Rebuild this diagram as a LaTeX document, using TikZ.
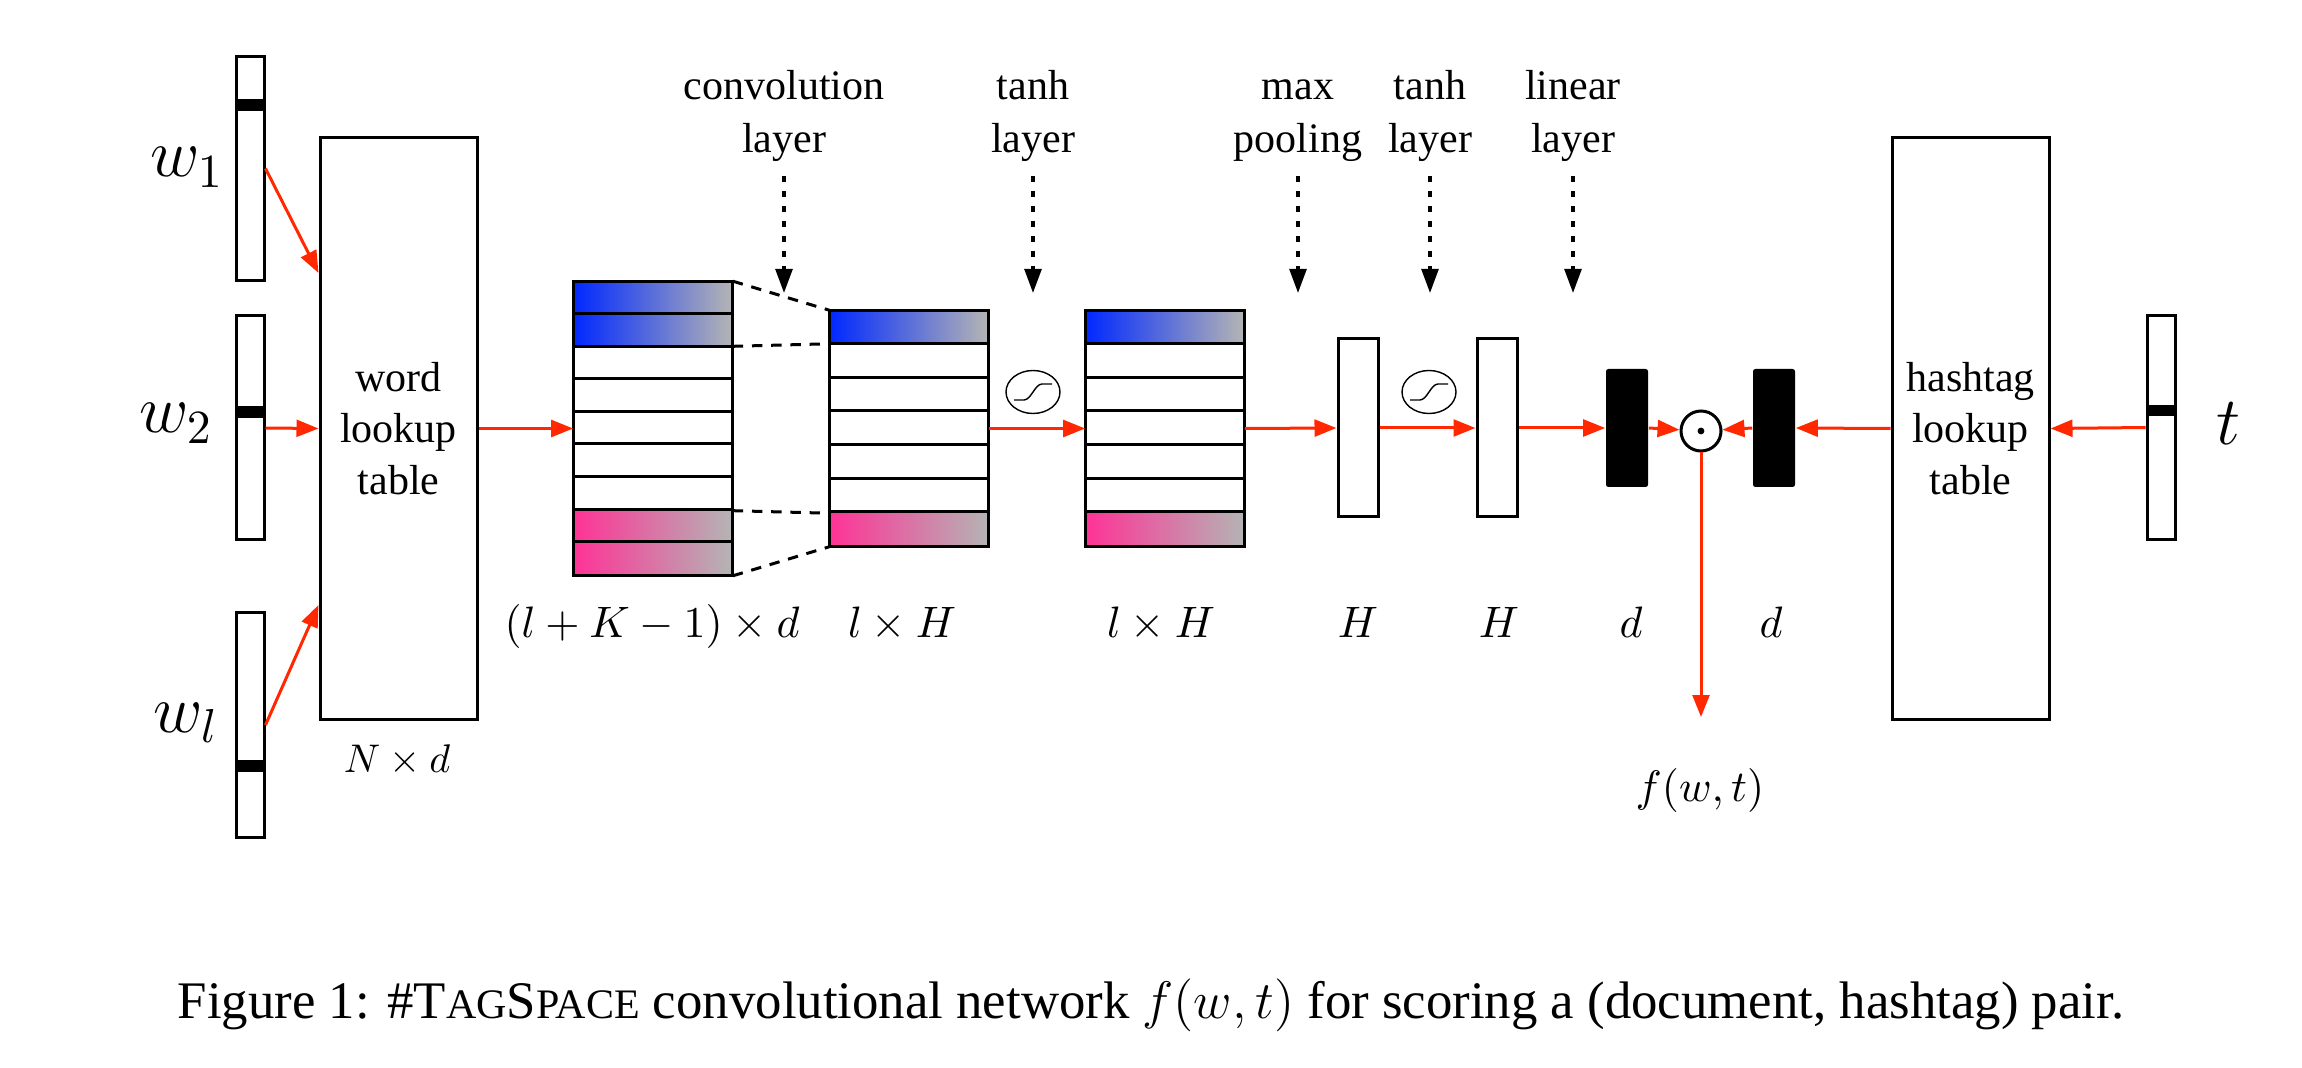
\RequirePackage{fix-cm}
\documentclass[tikz,border=0pt]{standalone}
\usepackage{fontspec}
\setmainfont{Liberation Serif}
\usetikzlibrary{arrows.meta,shapes.geometric,calc}
\definecolor{myred}{RGB}{255,40,0}
\definecolor{cblue}{RGB}{0,40,255}
\definecolor{cpink}{RGB}{255,50,150}
\definecolor{cgray}{RGB}{180,180,180}
\begin{document}
\begin{tikzpicture}[x=0.25pt,y=-0.25pt,
  ln/.style={line width=0.75pt},
  vecbox/.style={draw,ln,minimum width=7pt,minimum height=56pt,inner sep=0pt},
  tablebox/.style={draw,ln,minimum width=39.25pt,minimum height=145.25pt,inner sep=0pt,align=center,font=\fontsize{10.5}{12.9}\selectfont},
  stackbox/.style={minimum width=39.5pt,inner sep=0pt},
  thinbox/.style={draw,ln,minimum width=10pt,minimum height=44.5pt,inner sep=0pt},
  blkbox/.style={fill=black,minimum width=10.5pt,minimum height=29.5pt,inner sep=0pt,rounded corners=0.6pt},
  rar/.style={draw=myred,line width=0.75pt,-{Triangle[length=5.5pt,width=4.2pt]}},
  dotarr/.style={black,line width=0.8pt,dash pattern=on 1.3pt off 2.45pt,-{Triangle[length=6pt,width=4.2pt]}},
  dashcon/.style={black,ln,dash pattern=on 2.6pt off 2.2pt},
  toplbl/.style={align=center,inner sep=0pt,font=\fontsize{10.5}{13.25}\selectfont},
  dimlbl/.style={anchor=base,inner sep=0pt,font=\fontsize{11}{13}\selectfont},
  biglbl/.style={anchor=base,inner sep=0pt,font=\fontsize{17}{20}\selectfont},
  sig/.style={draw,ellipse,line width=0.35pt,minimum width=13.5pt,minimum height=10.75pt,inner sep=0pt},
]
\useasboundingbox (0,0) rectangle (2302,1068);

% input one-hot vectors
\node[vecbox] (w1) at (250,168.5) {};
\fill ($(w1.north west)+(0,44)$) rectangle ($(w1.north east)+(0,56)$);
\node[vecbox] (w2) at (250,428) {};
\fill ($(w2.north west)+(0,92)$) rectangle ($(w2.north east)+(0,104)$);
\node[vecbox] (wl) at (250,725) {};
\fill ($(wl.north west)+(0,148)$) rectangle ($(wl.north east)+(0,160)$);
\node[vecbox] (tv) at (2161,427.5) {};
\fill ($(tv.north west)+(0,91)$) rectangle ($(tv.north east)+(0,102)$);

\node[biglbl] (lw1) at (187,177) {$w_1$};
\node[biglbl] (lw2) at (176,433) {$w_2$};
\node[biglbl] (lwl) at (186,732) {$w_l$};
\node[biglbl] (lt) at (2228,445) {$t$};

% lookup tables
\node[tablebox] (word) at (398.5,428.5) {word\\lookup\\table};
\node[tablebox] (hash) at (1970.5,428.5) {hashtag\\lookup\\table};
\node[dimlbl,font=\fontsize{10}{12}\selectfont] (lnd) at (397,773) {$N\times d$};

% input stack (9 rows)
\node[stackbox,minimum height=73.25pt] (in) at (653,428.5) {};
\foreach \i in {0,1}{\shade[left color=cblue,right color=cgray] ($(in.north west)+(0,\i*32.556)$) rectangle ($(in.north west)+(158,\i*32.556+32.556)$);}
\foreach \i in {7,8}{\shade[left color=cpink,right color=cgray] ($(in.north west)+(0,\i*32.556)$) rectangle ($(in.north west)+(158,\i*32.556+32.556)$);}
\foreach \i in {1,...,8}{\draw[ln] ($(in.north west)+(0,\i*32.556)$) -- ($(in.north east)+(0,\i*32.556)$);}
\draw[ln] (in.north west) rectangle (in.south east);

% conv stack (7 rows)
\node[stackbox,minimum height=58.75pt] (conv) at (909,428.5) {};
\shade[left color=cblue,right color=cgray] (conv.north west) rectangle ($(conv.north west)+(158,33.571)$);
\shade[left color=cpink,right color=cgray] ($(conv.north west)+(0,201.43)$) rectangle (conv.south east);
\foreach \i in {1,...,6}{\draw[ln] ($(conv.north west)+(0,\i*33.571)$) -- ($(conv.north east)+(0,\i*33.571)$);}
\draw[ln] (conv.north west) rectangle (conv.south east);

% tanh stack (7 rows)
\node[stackbox,minimum height=58.75pt] (th) at (1165,428.5) {};
\shade[left color=cblue,right color=cgray] (th.north west) rectangle ($(th.north west)+(158,33.571)$);
\shade[left color=cpink,right color=cgray] ($(th.north west)+(0,201.43)$) rectangle (th.south east);
\foreach \i in {1,...,6}{\draw[ln] ($(th.north west)+(0,\i*33.571)$) -- ($(th.north east)+(0,\i*33.571)$);}
\draw[ln] (th.north west) rectangle (th.south east);

% dashed connectors
\draw[dashcon] (in.north east) -- (conv.north west);
\draw[dashcon] ($(in.north east)+(0,65.11)$) -- ($(conv.north west)+(0,33.57)$);
\draw[dashcon] ($(in.south east)+(0,-65.11)$) -- ($(conv.south west)+(0,-33.57)$);
\draw[dashcon] (in.south east) -- (conv.south west);

% sigmoid symbols
\node[sig] (s1) at (1033,392) {};
\draw[line width=0.35pt] ($(s1.center)+(-19,8)$) -- ($(s1.center)+(-9,8)$) .. controls ($(s1.center)+(-2,8)$) and ($(s1.center)+(2,-8)$) .. ($(s1.center)+(9,-8)$) -- ($(s1.center)+(19,-8)$);
\node[sig] (s2) at (1429,392) {};
\draw[line width=0.35pt] ($(s2.center)+(-19,8)$) -- ($(s2.center)+(-9,8)$) .. controls ($(s2.center)+(-2,8)$) and ($(s2.center)+(2,-8)$) .. ($(s2.center)+(9,-8)$) -- ($(s2.center)+(19,-8)$);

% small boxes
\node[thinbox] (mp) at (1358,428) {};
\node[thinbox] (tb) at (1497,428) {};
\node[blkbox] (b1) at (1627,428) {};
\node[blkbox] (b2) at (1774,428) {};
\node[circle,draw,ln,minimum size=10pt,inner sep=0pt] (dot) at (1701,431) {};
\fill (dot.center) circle (0.85pt);

% red arrows
\draw[rar] (w1.east) -- ($(word.west)+(0,-155.5)$);
\draw[rar] (w2.east) -- (word.west);
\draw[rar] (wl.east) -- ($(word.west)+(0,176.5)$);
\draw[rar] (word.east) -- (in.west);
\draw[rar] (conv.east) -- (th.west);
\draw[rar] (th.east) -- (mp.west);
\draw[rar] (mp.east) -- (tb.west);
\draw[rar] (tb.east) -- (b1.west);
\draw[rar] (b1.east) -- (dot);
\draw[rar] (b2.west) -- (dot);
\draw[rar] (hash.west) -- (b2.east);
\draw[rar] (tv.west) -- (hash.east);
\coordinate (fend) at (1701,717);
\draw[rar] (dot.south) -- (fend);
\node[dimlbl] (lf) at (1700,801) {$f(w,t)$};

% dimension labels
\node[dimlbl] (d1) at (652,638) {$(l+K-1)\times d$};
\node[dimlbl] (d2) at (902,638) {$l\times H$};
\node[dimlbl] (d3) at (1161,638) {$l\times H$};
\node[dimlbl] (d4) at (1358,638) {$H$};
\node[dimlbl] (d5) at (1499,638) {$H$};
\node[dimlbl] (d6) at (1631,638) {$d$};
\node[dimlbl] (d7) at (1771,638) {$d$};

% top labels and dotted arrows
\node[toplbl] (Lconv) at (784,112) {\strut convolution\\layer};
\node[toplbl] (Ltanh) at (1033,112) {\strut tanh\\layer};
\node[toplbl] (Lmax) at (1298,112) {\strut max\\pooling};
\node[toplbl] (Ltanh2) at (1430,112) {\strut tanh\\layer};
\node[toplbl] (Llin) at (1573,112) {\strut linear\\layer};
\coordinate (Aconv) at (784,293);
\coordinate (Atanh) at (1033,293);
\coordinate (Amax) at (1298,293);
\coordinate (Atanh2) at (1430,293);
\coordinate (Alin) at (1573,293);
\draw[dotarr,shorten <=3.5pt] (Lconv.south) -- (Aconv);
\draw[dotarr,shorten <=3.5pt] (Ltanh.south) -- (Atanh);
\draw[dotarr,shorten <=3.5pt] (Lmax.south) -- (Amax);
\draw[dotarr,shorten <=3.5pt] (Ltanh2.south) -- (Atanh2);
\draw[dotarr,shorten <=3.5pt] (Llin.south) -- (Alin);

% caption
\node[anchor=base,inner sep=0pt,font=\fontsize{13.2}{15}\selectfont] (cap) at (1151,1018) {Figure 1: \#T{\fontsize{10.5}{12}\selectfont AG}S{\fontsize{10.5}{12}\selectfont PACE} convolutional network $f(w,t)$ for scoring a (document, hashtag) pair.};
\end{tikzpicture}
\end{document}
